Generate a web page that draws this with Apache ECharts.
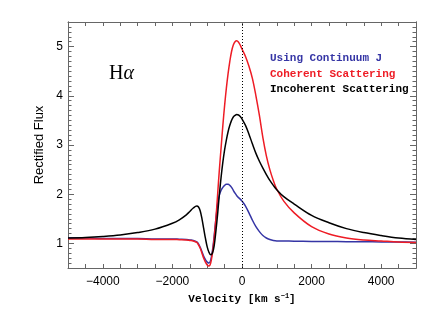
<!DOCTYPE html>
<html><head><meta charset="utf-8">
<script src="https://cdn.jsdelivr.net/npm/echarts@6/dist/echarts.min.js"></script>
<style>html,body{margin:0;padding:0;background:#fff}#c{width:436px;height:312px}</style>
</head><body><div id="c"></div>
<script>
var velocity = [-5000,-4500,-4000,-3500,-3000,-2500,-2000,-1800,-1600,-1500,-1400,-1300,-1250,-1200,-1150,-1100,-1050,-1000,-950,-900,-850,-800,-750,-700,-650,-600,-550,-500,-450,-400,-350,-300,-250,-200,-150,-100,-50,0,100,200,300,400,500,600,700,800,900,1000,1200,1500,2000,2500,3000,3500,4000,4500,5000];
var incoherent = [1.11,1.12,1.14,1.17,1.22,1.29,1.41,1.48,1.58,1.65,1.72,1.76,1.74,1.66,1.5,1.3,1.1,0.93,0.82,0.77,0.8,0.95,1.25,1.6,2.0,2.35,2.65,2.9,3.1,3.27,3.4,3.5,3.57,3.6,3.62,3.61,3.58,3.53,3.4,3.22,3.02,2.83,2.67,2.53,2.4,2.28,2.18,2.09,1.95,1.8,1.57,1.42,1.3,1.22,1.16,1.11,1.08];
var coherent = [1.09,1.09,1.09,1.09,1.09,1.08,1.08,1.075,1.07,1.06,1.05,1.02,0.97,0.9,0.8,0.7,0.62,0.56,0.54,0.6,0.8,1.1,1.5,2.0,2.5,2.95,3.4,3.8,4.15,4.45,4.7,4.9,5.03,5.1,5.12,5.09,5.03,4.95,4.8,4.6,4.35,4.0,3.6,3.15,2.78,2.5,2.28,2.1,1.86,1.62,1.34,1.19,1.11,1.07,1.05,1.03,1.02];
var continuumJ = [1.11,1.11,1.1,1.1,1.1,1.09,1.09,1.085,1.08,1.07,1.06,1.03,0.99,0.92,0.83,0.74,0.67,0.62,0.6,0.66,0.85,1.15,1.5,1.8,1.98,2.08,2.14,2.18,2.2,2.2,2.18,2.14,2.08,2.02,1.97,1.93,1.9,1.86,1.76,1.62,1.47,1.34,1.24,1.16,1.11,1.08,1.06,1.05,1.048,1.045,1.04,1.038,1.035,1.032,1.03,1.027,1.025];
var xTickLabels = [-4000,-2000,0,2000,4000];
var yTickLabels = [1,2,3,4,5];
var restVelocity = [0];
var seriesNames = ['Using Continuum J','Coherent Scattering','Incoherent Scattering'];
var colors = ['#3535a5','#ee1c25','#000000'];

function pairs(v){ return velocity.map(function(x,i){return [x,v[i]];}); }
var axisCol = '#666';
var sans = 'Liberation Sans';
var mono = 'Liberation Mono';
var g = {left:68,right:20,top:22,bottom:44};

function yAx(grid,pos,interval,len,custom,extra){
  var a = {type:'value',gridIndex:grid,position:pos,min:0.5,max:5.5,interval:interval,
    axisLine:{show:true,onZero:false,lineStyle:{color:axisCol}},
    axisTick:{inside:true,length:len,lineStyle:{color:axisCol}},
    axisLabel:{show:false},splitLine:{show:false}};
  if(custom){a.axisTick.customValues = custom;}
  if(extra){for(var k in extra){a[k]=extra[k];}}
  return a;
}

var chart = echarts.init(document.getElementById('c'));
chart.setOption({
  animation:false,
  grid:[g, g],
  xAxis:[
    {type:'value',gridIndex:0,position:'bottom',min:-5000,max:5000,interval:500,
     axisLine:{onZero:false,lineStyle:{color:axisCol}},
     axisTick:{inside:true,length:4,lineStyle:{color:axisCol}},
     axisLabel:{customValues:xTickLabels,color:'#000',fontFamily:sans,fontSize:12,margin:8,
       formatter:function(v){return String(v).replace('-','\u2212');}},
     splitLine:{show:false},
     name:'Velocity [km s{s|\u22121}]',nameLocation:'middle',nameGap:24,
     nameTextStyle:{color:'#000',fontFamily:mono,fontSize:11,fontWeight:'bold',
       rich:{s:{fontFamily:mono,fontSize:7,fontWeight:'bold',verticalAlign:'top',padding:[0,0,6,0]}}}},
    {type:'value',gridIndex:0,position:'top',min:-5000,max:5000,interval:500,
     axisLine:{onZero:false,lineStyle:{color:axisCol}},
     axisTick:{inside:true,length:4,lineStyle:{color:axisCol}},
     axisLabel:{show:false},splitLine:{show:false}},
    {type:'value',gridIndex:1,min:-5000,max:5000,show:false,axisLine:{onZero:false}}
  ],
  yAxis:[
    yAx(0,'left',0.1,3.5,null,{
      axisLabel:{customValues:yTickLabels,color:'#000',fontFamily:sans,fontSize:12,margin:5},
      name:'Rectified Flux',nameLocation:'middle',nameGap:4,
      nameTextStyle:{color:'#000',fontFamily:sans,fontSize:13}}),
    yAx(0,'right',0.1,3.5,null),
    yAx(1,'left',0.5,6,yTickLabels),
    yAx(1,'right',0.5,6,yTickLabels)
  ],
  series:[
    {name:'rest',type:'line',xAxisIndex:0,yAxisIndex:0,data:[],
     markLine:{silent:true,symbol:'none',label:{show:false},animation:false,
       lineStyle:{color:'#000',type:[1,2],width:1},
       data:restVelocity.map(function(v){return {xAxis:v};})}},
    {name:seriesNames[0],type:'line',data:pairs(continuumJ),smooth:0.35,showSymbol:false,
     lineStyle:{color:colors[0],width:1.5},itemStyle:{color:colors[0]}},
    {name:seriesNames[1],type:'line',data:pairs(coherent),smooth:0.35,showSymbol:false,
     lineStyle:{color:colors[1],width:1.5},itemStyle:{color:colors[1]}},
    {name:seriesNames[2],type:'line',data:pairs(incoherent),smooth:0.35,showSymbol:false,
     lineStyle:{color:colors[2],width:1.5},itemStyle:{color:colors[2]}}
  ],
  graphic:[
    {type:'text',left:109,top:64,style:{text:'{h|H}{a|\u03b1}',fill:'#000',
      rich:{h:{fontFamily:'Liberation Serif',fontSize:20},a:{fontFamily:'Liberation Serif',fontSize:20,fontStyle:'italic'}}}},
    {type:'text',left:270,top:53,style:{text:seriesNames[0],fill:colors[0],font:'bold 11px "Liberation Mono"'}},
    {type:'text',left:270,top:68.5,style:{text:seriesNames[1],fill:colors[1],font:'bold 11px "Liberation Mono"'}},
    {type:'text',left:270,top:84,style:{text:seriesNames[2],fill:colors[2],font:'bold 11px "Liberation Mono"'}}
  ]
});
</script></body></html>
